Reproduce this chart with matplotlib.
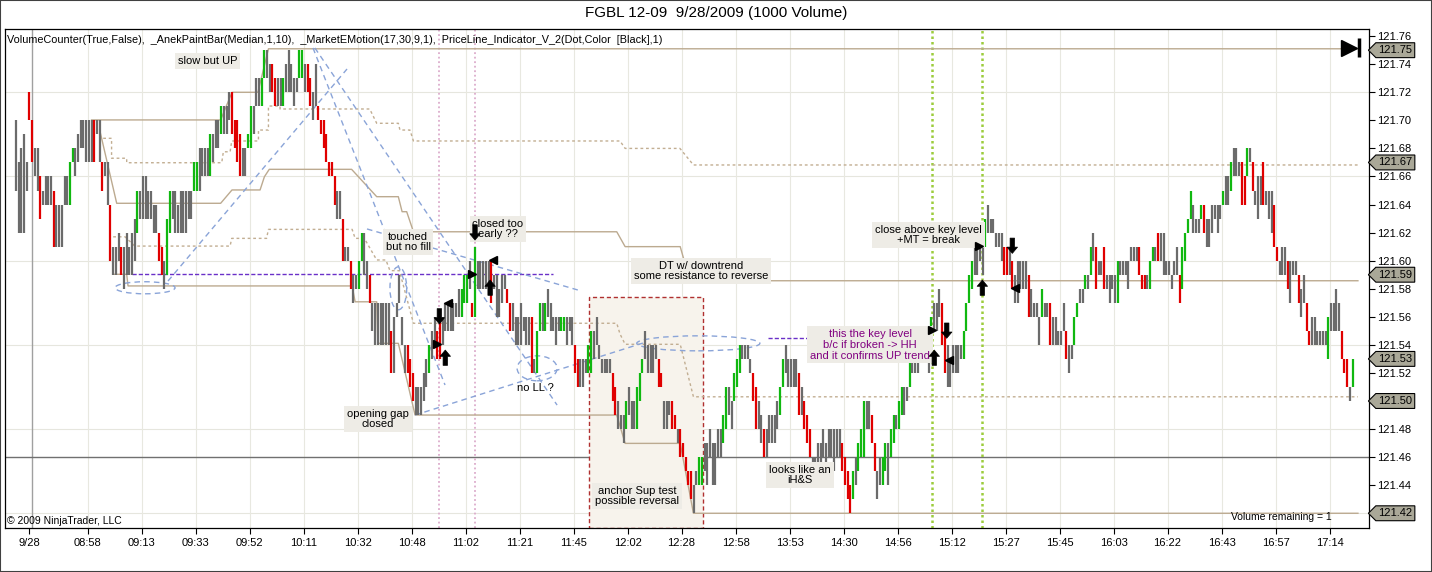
import matplotlib
matplotlib.use("Agg")
import matplotlib.pyplot as plt
from matplotlib.patches import Ellipse, Rectangle
from matplotlib.path import Path

plt.rcParams["font.family"] = ["Liberation Sans", "DejaVu Sans"]

# bar ranges in ticks (0.01) above 121.40, colour code k = neutral, r = down, g = up
base = 121.40
tick = 0.01

bars_a = [  # 9/28 open .. 10:11
    (25, 30, "k"), (22, 27, "k"), (22, 28, "k"), (22, 29, "k"), (25, 27, "k"), (30, 32, "r"), (27, 30, "r"),
    (26, 28, "k"), (25, 28, "k"), (23, 26, "r"), (24, 25, "k"), (24, 26, "k"), (24, 26, "k"), (24, 26, "k"),
    (21, 25, "r"), (21, 24, "k"), (21, 24, "k"), (21, 24, "k"), (24, 26, "k"), (24, 26, "k"), (24, 27, "g"),
    (27, 28, "g"), (26, 28, "k"), (27, 29, "k"), (28, 30, "k"), (28, 30, "k"), (27, 30, "k"), (27, 30, "k"),
    (27, 30, "k"), (27, 30, "r"), (29, 30, "k"), (27, 30, "k"), (25, 27, "r"), (26, 27, "k"), (24, 27, "k"),
    (20, 24, "r"), (19, 21, "k"), (19, 21, "k"), (20, 22, "k"), (19, 21, "r"), (18, 21, "k"), (19, 22, "k"),
    (19, 21, "k"), (19, 22, "k"), (20, 23, "k"), (22, 25, "g"), (23, 25, "k"), (23, 26, "k"), (23, 26, "k"),
    (23, 25, "k"), (23, 25, "k"), (22, 24, "k"), (22, 24, "k"), (20, 22, "r"), (19, 21, "r"), (18, 20, "k"),
    (19, 23, "g"), (22, 25, "g"), (23, 25, "k"), (22, 25, "k"), (22, 24, "k"), (22, 25, "k"), (22, 25, "k"),
    (22, 25, "k"), (23, 25, "k"), (23, 25, "k"), (25, 27, "g"), (25, 27, "g"), (25, 28, "k"), (26, 28, "k"),
    (26, 28, "k"), (26, 28, "k"), (26, 29, "g"), (27, 29, "k"), (28, 30, "k"), (28, 30, "k"), (29, 31, "g"),
    (29, 31, "k"), (29, 31, "k"), (30, 32, "k"), (29, 32, "r"), (28, 30, "r"), (27, 30, "r"), (26, 29, "r"),
    (26, 28, "k"), (26, 28, "k"), (28, 29, "g"), (28, 31, "g"), (29, 31, "k"), (31, 33, "k"), (31, 33, "k"),
    (31, 33, "g"), (33, 35, "g"), (33, 35, "k"), (32, 34, "k"), (32, 34, "r"), (31, 33, "r"),
]

bars_b = [  # 10:11 .. 11:45
    (31, 33, "k"), (31, 33, "k"), (31, 33, "g"), (32, 34, "k"), (32, 35, "k"), (32, 34, "k"), (31, 33, "k"),
    (32, 33, "k"), (33, 35, "g"), (33, 35, "g"), (32, 34, "k"), (32, 34, "r"), (31, 33, "r"), (30, 32, "k"),
    (31, 34, "k"), (30, 31, "r"), (29, 30, "r"), (28, 30, "r"), (27, 29, "r"), (26, 27, "r"), (26, 27, "r"),
    (24, 26, "r"), (23, 25, "k"), (23, 25, "k"), (20, 23, "r"), (20, 21, "k"), (20, 21, "k"), (18, 20, "r"),
    (17, 19, "k"), (18, 19, "k"), (18, 20, "g"), (20, 22, "g"), (19, 22, "k"), (18, 20, "k"), (17, 19, "r"),
    (15, 17, "k"), (14, 17, "k"), (14, 17, "k"), (14, 17, "k"), (14, 17, "k"), (14, 17, "k"), (14, 17, "k"),
    (12, 15, "r"), (12, 16, "k"), (16, 17, "k"), (17, 19, "k"), (14, 16, "k"), (12, 14, "k"), (12, 14, "r"),
    (11, 13, "r"), (10, 12, "r"), (9, 11, "k"), (9, 11, "k"), (9, 11, "k"), (10, 12, "k"), (11, 13, "k"),
    (12, 14, "g"), (13, 15, "k"), (14, 16, "k"), (13, 15, "r"), (13, 16, "r"), (14, 16, "k"), (15, 17, "k"),
    (15, 17, "k"), (15, 17, "k"), (15, 17, "k"), (16, 17, "k"), (16, 18, "k"), (16, 18, "g"), (17, 19, "g"),
    (17, 19, "g"), (18, 20, "k"), (16, 17, "r"), (16, 21, "g"), (18, 20, "k"), (18, 20, "k"), (18, 20, "k"),
    (18, 20, "k"), (18, 20, "k"), (17, 20, "r"), (18, 19, "k"), (16, 19, "k"), (16, 18, "k"), (17, 19, "k"),
    (18, 19, "k"), (17, 18, "r"), (15, 17, "r"), (15, 17, "k"), (14, 16, "k"), (14, 16, "k"), (14, 17, "k"),
    (15, 16, "k"), (14, 16, "k"), (14, 16, "k"), (12, 16, "r"), (12, 13, "k"), (12, 15, "g"), (15, 17, "g"),
    (15, 17, "k"), (15, 17, "g"), (16, 18, "k"),
]

bars_c = [  # 11:45 .. 13:53
    (15, 17, "k"), (15, 16, "k"), (14, 16, "k"), (15, 16, "k"), (15, 16, "g"), (15, 16, "g"), (14, 16, "k"),
    (15, 16, "k"), (14, 16, "k"), (12, 14, "r"), (11, 13, "r"), (11, 13, "k"), (11, 13, "k"), (12, 13, "k"),
    (12, 14, "g"), (12, 15, "g"), (13, 15, "k"), (14, 16, "k"), (13, 14, "k"), (12, 13, "k"), (12, 13, "k"),
    (12, 13, "k"), (12, 13, "k"), (10, 12, "r"), (9, 11, "r"), (8, 10, "k"), (8, 9, "k"), (7, 9, "k"),
    (8, 10, "g"), (9, 11, "k"), (8, 10, "k"), (8, 10, "k"), (8, 11, "g"), (10, 12, "g"), (12, 13, "g"),
    (13, 15, "k"), (12, 14, "k"), (12, 14, "k"), (12, 14, "k"), (13, 14, "k"), (11, 13, "r"), (11, 12, "r"),
    (8, 10, "k"), (8, 10, "k"), (9, 10, "k"), (8, 10, "r"), (8, 9, "r"), (7, 8, "k"), (6, 8, "r"),
    (6, 7, "r"), (5, 6, "r"), (4, 5, "r"), (3, 5, "r"), (2, 4, "k"), (4, 5, "k"), (4, 6, "g"),
    (4, 6, "g"), (5, 7, "k"), (4, 7, "k"), (6, 8, "k"), (4, 7, "k"), (4, 7, "k"), (6, 8, "k"),
    (6, 8, "k"), (7, 9, "g"), (8, 11, "g"), (9, 11, "k"), (8, 10, "k"), (10, 12, "g"), (11, 13, "g"),
    (12, 14, "g"), (13, 14, "k"), (13, 14, "k"), (13, 14, "k"), (12, 13, "k"), (10, 12, "r"), (8, 11, "r"),
    (8, 10, "k"), (7, 9, "k"), (6, 8, "r"), (6, 8, "k"), (7, 9, "k"), (7, 9, "k"), (7, 9, "k"),
    (8, 10, "k"), (9, 11, "g"), (11, 13, "g"), (12, 14, "k"), (11, 13, "k"), (11, 13, "k"), (11, 13, "k"),
    (11, 13, "k"), (9, 12, "r"), (9, 11, "k"), (8, 10, "r"), (7, 9, "r"), (6, 8, "r"), (5, 6, "k"),
    (5, 6, "k"), (5, 7, "k"), (5, 7, "k"),
]

bars_d = [  # 13:53 .. 16:03
    (6, 8, "k"), (4, 7, "k"), (6, 8, "k"), (6, 8, "k"), (5, 8, "k"), (6, 8, "k"), (6, 8, "k"),
    (5, 7, "r"), (4, 6, "r"), (3, 5, "r"), (2, 4, "r"), (3, 5, "g"), (4, 6, "k"), (5, 7, "g"),
    (6, 8, "g"), (6, 10, "g"), (8, 10, "k"), (8, 10, "k"), (7, 9, "r"), (5, 7, "r"), (3, 5, "k"),
    (4, 6, "k"), (4, 6, "g"), (5, 7, "g"), (4, 7, "k"), (6, 8, "g"), (7, 9, "g"), (8, 9, "k"),
    (8, 10, "g"), (9, 11, "g"), (9, 11, "k"), (10, 11, "k"), (11, 13, "g"), (12, 13, "k"), (12, 13, "k"),
    (12, 13, "k"), (13, 15, "g"), (13, 15, "k"), (13, 15, "k"), (12, 14, "k"), (14, 16, "g"), (15, 17, "k"),
    (15, 17, "k"), (16, 18, "k"), (14, 17, "r"), (12, 15, "r"), (11, 14, "k"), (11, 13, "k"), (12, 14, "k"),
    (12, 14, "k"), (12, 14, "k"), (13, 14, "k"), (13, 15, "g"), (15, 17, "g"), (17, 19, "g"), (18, 20, "g"),
    (19, 21, "k"), (19, 21, "k"), (20, 22, "k"), (19, 22, "k"), (21, 23, "g"), (22, 24, "k"), (22, 23, "k"),
    (22, 23, "k"), (21, 22, "k"), (21, 22, "k"), (20, 22, "k"), (19, 21, "r"), (19, 21, "r"), (19, 21, "k"),
    (18, 20, "r"), (17, 19, "k"), (17, 20, "k"), (18, 20, "k"), (18, 20, "k"), (18, 20, "k"), (16, 19, "r"),
    (16, 18, "k"), (16, 17, "k"), (16, 17, "k"), (14, 16, "k"), (16, 18, "g"), (16, 17, "k"), (16, 17, "k"),
    (14, 17, "r"), (14, 16, "k"), (14, 16, "k"), (14, 15, "k"), (14, 15, "k"), (15, 17, "k"), (13, 15, "r"),
    (12, 14, "k"), (13, 14, "k"), (14, 16, "g"), (16, 17, "g"), (17, 18, "k"), (17, 18, "k"), (18, 19, "g"),
]

bars_e = [  # 16:03 .. close
    (18, 19, "k"), (19, 21, "g"), (20, 22, "k"), (18, 21, "r"), (19, 20, "k"), (19, 20, "k"), (18, 21, "r"),
    (18, 19, "k"), (17, 19, "k"), (18, 19, "k"), (17, 19, "k"), (17, 20, "g"), (19, 20, "k"), (19, 20, "k"),
    (19, 20, "k"), (18, 20, "k"), (20, 21, "k"), (20, 21, "k"), (20, 21, "k"), (19, 21, "r"), (18, 19, "r"),
    (18, 19, "r"), (18, 19, "k"), (18, 20, "g"), (20, 21, "g"), (20, 21, "k"), (20, 22, "r"), (20, 22, "k"),
    (19, 22, "k"), (19, 20, "k"), (19, 20, "k"), (18, 19, "k"), (19, 20, "k"), (19, 21, "k"), (17, 19, "r"),
    (18, 21, "g"), (20, 22, "g"), (22, 23, "g"), (23, 25, "g"), (22, 24, "k"), (22, 23, "k"), (22, 23, "k"),
    (23, 24, "g"), (22, 24, "r"), (21, 23, "k"), (21, 23, "k"), (22, 24, "k"), (23, 24, "k"), (22, 24, "k"),
    (23, 24, "k"), (24, 25, "g"), (24, 26, "k"), (24, 26, "k"), (25, 27, "g"), (26, 28, "k"), (26, 28, "k"),
    (26, 27, "k"), (24, 27, "r"), (24, 26, "r"), (26, 28, "g"), (27, 28, "k"), (25, 27, "r"), (24, 25, "k"),
    (23, 26, "k"), (24, 26, "k"), (24, 27, "r"), (24, 25, "k"), (23, 25, "k"), (22, 25, "k"), (21, 24, "r"),
    (20, 21, "r"), (19, 20, "k"), (19, 21, "k"), (19, 21, "k"), (18, 20, "r"), (17, 20, "k"), (19, 20, "k"),
    (19, 20, "k"), (17, 19, "r"), (16, 18, "k"), (17, 19, "k"), (15, 17, "r"), (14, 15, "r"), (14, 16, "k"),
    (14, 16, "k"), (14, 15, "k"), (14, 15, "k"), (14, 15, "k"), (14, 15, "k"), (13, 16, "g"), (15, 17, "k"),
    (15, 17, "k"), (15, 18, "k"), (15, 17, "k"), (13, 15, "r"), (12, 13, "r"), (11, 13, "r"), (10, 11, "k"),
    (11, 13, "g"),
]

paint = {"k": "#6b6b6b", "r": "#e00000", "g": "#10b810"}

time_labels = ["9/28", "08:58", "09:13", "09:33", "09:52", "10:11", "10:32", "10:48", "11:02",
               "11:21", "11:45", "12:02", "12:28", "12:58", "13:53", "14:30", "14:56", "15:12",
               "15:27", "15:45", "16:03", "16:22", "16:43", "16:57", "17:14"]
time_ticks = [4.8] + [26.5 + 20 * k for k in range(24)]

price_ticks = [121.44, 121.46, 121.48, 121.50, 121.52, 121.54, 121.56, 121.58,
               121.60, 121.62, 121.64, 121.66, 121.68, 121.70, 121.72, 121.74, 121.76]
grid_prices = [121.42, 121.48, 121.54, 121.60, 121.66, 121.72]
tag_prices = [121.75, 121.67, 121.59, 121.53, 121.50, 121.42]

# MarketEMotion step lines (bar index, price)
mem_top_x = [28, 75.8, 80, 89.6, 93.5, 497]
mem_top_y = [121.7003, 121.7003, 121.72, 121.72, 121.751, 121.751]
mem_mid_x = [31, 37.3, 75.8, 80, 90.4, 92, 93.8, 124.3, 133.6, 141.6, 143, 144.7, 147.2,
             222.5, 225.6, 246, 249.6, 497]
mem_mid_y = [121.6931, 121.6409, 121.6409, 121.6504, 121.6504, 121.6598, 121.6651, 121.6651,
             121.6456, 121.6456, 121.6349, 121.6349, 121.6206, 121.6206, 121.61, 121.61,
             121.5857, 121.5857]
mem_low_x = [36, 41, 41.5, 124.5, 125.6, 133.6, 134, 141.6, 147.8, 222.5, 225.6, 246, 250.9, 497]
mem_low_y = [121.5903, 121.5903, 121.582, 121.582, 121.5707, 121.5707, 121.5411, 121.5411,
             121.49, 121.49, 121.4698, 121.4698, 121.42, 121.42]
dot_up_x = [32.3, 35.4, 35.4, 41, 41, 76.2, 76.8, 79.3, 79.9, 89.8, 89.8, 93.5, 93.5, 97.8,
            97.8, 131, 133.6, 141.6, 142.2, 145.9, 147.2, 223.7, 225.6, 245.9, 250.9, 497]
dot_up_y = [121.6872, 121.6872, 121.673, 121.673, 121.6698, 121.6698, 121.6776, 121.6776,
            121.6853, 121.6853, 121.6931, 121.6931, 121.7102, 121.7102, 121.7081, 121.7081,
            121.6979, 121.6979, 121.6931, 121.6931, 121.6853, 121.6853, 121.68, 121.68,
            121.6682, 121.6682]
dot_low_x = [36, 40.4, 44, 79.3, 79.9, 92.8, 93.5, 124.5, 125.6, 129, 133.6, 137, 138.5, 142,
             147.2, 222.5, 223.7, 225.6, 246, 250.9, 497]
dot_low_y = [121.617, 121.617, 121.6104, 121.6104, 121.6159, 121.6159, 121.6223, 121.6223,
             121.6159, 121.6159, 121.6005, 121.6005, 121.5929, 121.5929, 121.5554, 121.5554,
             121.5478, 121.5404, 121.5404, 121.503, 121.503]

# hand drawn objects
trend_lines = [((56.3, 121.5855), (122.6, 121.7366)),
               ((110.0, 121.7516), (158.9, 121.5114)),
               ((110.7, 121.7516), (200.4, 121.4971)),
               ((130.0, 121.6226), (208.1, 121.5791)),
               ((147.8, 121.4900), (232.2, 121.5413))]
ellipses = [(47.8, 121.5807, 22.2, 0.0086), (141.6, 121.5803, 6.2, 0.0306),
            (193.0, 121.5233, 14.8, 0.0178), (252.7, 121.5411, 45.6, 0.0107)]
purple_lines = [(43, 199, 121.5903), (278.6, 295.2, 121.545)]
down_arrows = [(170.0, 121.6147), (156.8, 121.5549), (344.7, 121.5447), (369.0, 121.6052)]
up_arrows = [(159.0, 121.5363), (175.6, 121.5862), (340.1, 121.5363), (357.9, 121.5862)]
right_marks = [(155.8, 121.5406), (169.0, 121.5905), (339.1, 121.5506), (356.8, 121.6104)]
left_marks = [(160.1, 121.5700), (176.8, 121.6005), (345.7, 121.5292), (370.0, 121.5803)]

notes = [
    ("slow but UP", 71.1, 121.7423, "black"),
    ("touched\nbut no fill", 145.2, 121.6133, "black"),
    ("closed too\nearly ??", 178.5, 121.6226, "black"),
    ("DT w/ downtrend\nsome resistance to reverse", 253.7, 121.5926, "black"),
    ("opening gap\nclosed", 134.0, 121.4872, "black"),
    ("anchor Sup test\npossible reversal", 230.0, 121.4323, "black"),
    ("looks like an\niH&S", 290.4, 121.4473, "black"),
    ("this the key level\nb/c if broken -> HH\nand it confirms UP trend", 316.3, 121.5400, "#800080"),
    ("close above key level\n+MT = break", 338.0, 121.6183, "black"),
]


def price_tag(x0, y0, width, height, mutation_size):
    pad = 0.22 * mutation_size
    x0, y0 = x0 - pad, y0 - pad
    width, height = width + 2 * pad, height + 2 * pad
    tip = height * 0.5
    return Path([(x0 - tip, y0 + height / 2), (x0, y0), (x0 + width, y0),
                 (x0 + width, y0 + height), (x0, y0 + height), (x0 - tip, y0 + height / 2)],
                closed=True)


fig = plt.figure(figsize=(14.32, 5.72), dpi=100)
ax = fig.add_axes([5 / 1432, 44 / 572, 1364 / 1432, 499 / 572])
ax.set_xlim(-4.07, 501.1)
ax.set_ylim(121.4095, 121.7651)

for p in grid_prices:
    ax.axhline(p, color="#e6e6de", lw=0.8, zorder=0)
for t in time_ticks[1:]:
    ax.axvline(t, color="#e8e8e0", lw=0.8, zorder=0)
ax.axvline(5.8, color="#a0a0a0", lw=1, zorder=0)
ax.axhline(121.46, color="#707070", lw=1, zorder=1)

# anchor support box
ax.add_patch(Rectangle((212.3, 121.4095), 42.3, 121.5743 - 121.4095, fc="#f7f3ec",
                       ec="#b03030", ls=(0, (3, 2)), lw=1, zorder=1))

for xp in [156.8, 170.0]:
    ax.axvline(xp, color="#dcaccc", ls=(0, (1, 1.5)), lw=1.3, zorder=1)
for xg in [339.1, 357.9]:
    ax.axvline(xg, color="#9ccc3c", ls=(0, (1, 1.2)), lw=1.8, zorder=1)

ax.plot(mem_top_x, mem_top_y, color="#bcaa90", lw=1, zorder=2)
ax.plot(mem_mid_x, mem_mid_y, color="#bcaa90", lw=1, zorder=2)
ax.plot(mem_low_x, mem_low_y, color="#bcaa90", lw=1, zorder=2)
ax.plot(dot_up_x, dot_up_y, color="#c2ae92", lw=1, ls=(0, (2, 2)), zorder=2)
ax.plot(dot_low_x, dot_low_y, color="#c2ae92", lw=1, ls=(0, (2, 2)), zorder=2)

for x0, x1, p in purple_lines:
    ax.plot([x0, x1], [p, p], color="#6a30c8", lw=1, ls=(0, (3, 1.5)), zorder=3)

for (x0, p0), (x1, p1) in trend_lines:
    ax.plot([x0, x1], [p0, p1], color="#8aa4d8", lw=1, ls=(0, (4, 3)), zorder=3)
for cx, cp, w, h in ellipses:
    ax.add_patch(Ellipse((cx, cp), w, h, fill=False, ec="#8aa4d8", lw=1,
                         ls=(0, (4, 3)), zorder=3))

# price bars
bars = bars_a + bars_b + bars_c + bars_d + bars_e
xs = list(range(len(bars)))
ax.vlines(xs, [base + b[0] * tick for b in bars], [base + b[1] * tick for b in bars],
          colors=[paint[b[2]] for b in bars], linewidth=1.6, zorder=4)

for text, x, p, c in notes:
    ax.text(x, p, text, ha="center", va="center", fontsize=8, color=c, linespacing=1.1,
            bbox=dict(boxstyle="square,pad=0.25", fc="#eeece6", ec="none"), zorder=5)
ax.text(192.2, 121.5093, "no LL ?", ha="center", va="center", fontsize=8, zorder=5)

arrow_style = "simple,head_length=0.45,head_width=0.75,tail_width=0.32"
for x, p in down_arrows:
    ax.annotate("", xy=(x, p), xytext=(0, 11), textcoords="offset points", zorder=8,
                arrowprops=dict(arrowstyle=arrow_style, fc="k", ec="k", lw=0.5, shrinkA=0, shrinkB=0))
for x, p in up_arrows:
    ax.annotate("", xy=(x, p), xytext=(0, -11), textcoords="offset points", zorder=8,
                arrowprops=dict(arrowstyle=arrow_style, fc="k", ec="k", lw=0.5, shrinkA=0, shrinkB=0))
for x, p in right_marks:
    ax.plot(x, p, marker=">", ms=5.5, color="k", zorder=8)
for x, p in left_marks:
    ax.plot(x, p, marker="<", ms=5.5, color="k", zorder=8)

# end-of-chart marker
ax.plot(493.7, 121.7519, marker=">", ms=12, color="k", zorder=8)
ax.vlines(497.3, 121.7450, 121.7588, color="k", lw=2.5, zorder=8)

# axes styling
for s in ax.spines.values():
    s.set_color("black")
    s.set_linewidth(0.9)
ax.yaxis.tick_right()
ax.set_yticks(price_ticks)
ax.set_yticklabels([f"{p:.2f}" for p in price_ticks])
ax.set_xticks(time_ticks)
ax.set_xticklabels(time_labels)
ax.tick_params(axis="y", direction="out", length=4, width=0.8, pad=1.5, labelsize=8)
ax.tick_params(axis="x", direction="out", length=4, width=0.8, pad=3, labelsize=8)

for p in tag_prices:
    ax.text(1.0068, p, f"{p:.2f}", transform=ax.get_yaxis_transform(), ha="left", va="center",
            fontsize=8, bbox=dict(boxstyle=price_tag, fc="#aaa898", ec="k", lw=0.8),
            zorder=10, clip_on=False)

fig.text(0.5, 1 - 13 / 572, "FGBL 12-09  9/28/2009 (1000 Volume)", ha="center", va="center",
         fontsize=11)
fig.text(7 / 1432, 1 - 40 / 572,
         "VolumeCounter(True,False),  _AnekPaintBar(Median,1,10),  _MarketEMotion(17,30,9,1),  "
         "PriceLine_Indicator_V_2(Dot,Color  [Black],1)", ha="left", va="center", fontsize=7.8)
fig.text(7 / 1432, 1 - 521 / 572, "\u00a9 2009 NinjaTrader, LLC", ha="left", va="center",
         fontsize=7.5)
fig.text(1332 / 1432, 1 - 517 / 572, "Volume remaining = 1", ha="right", va="center", fontsize=7.5)

fig.add_artist(Rectangle((0, 0), 1, 1, transform=fig.transFigure, fill=False, ec="#404040", lw=1.5))

fig.savefig("out.png", dpi=100)
